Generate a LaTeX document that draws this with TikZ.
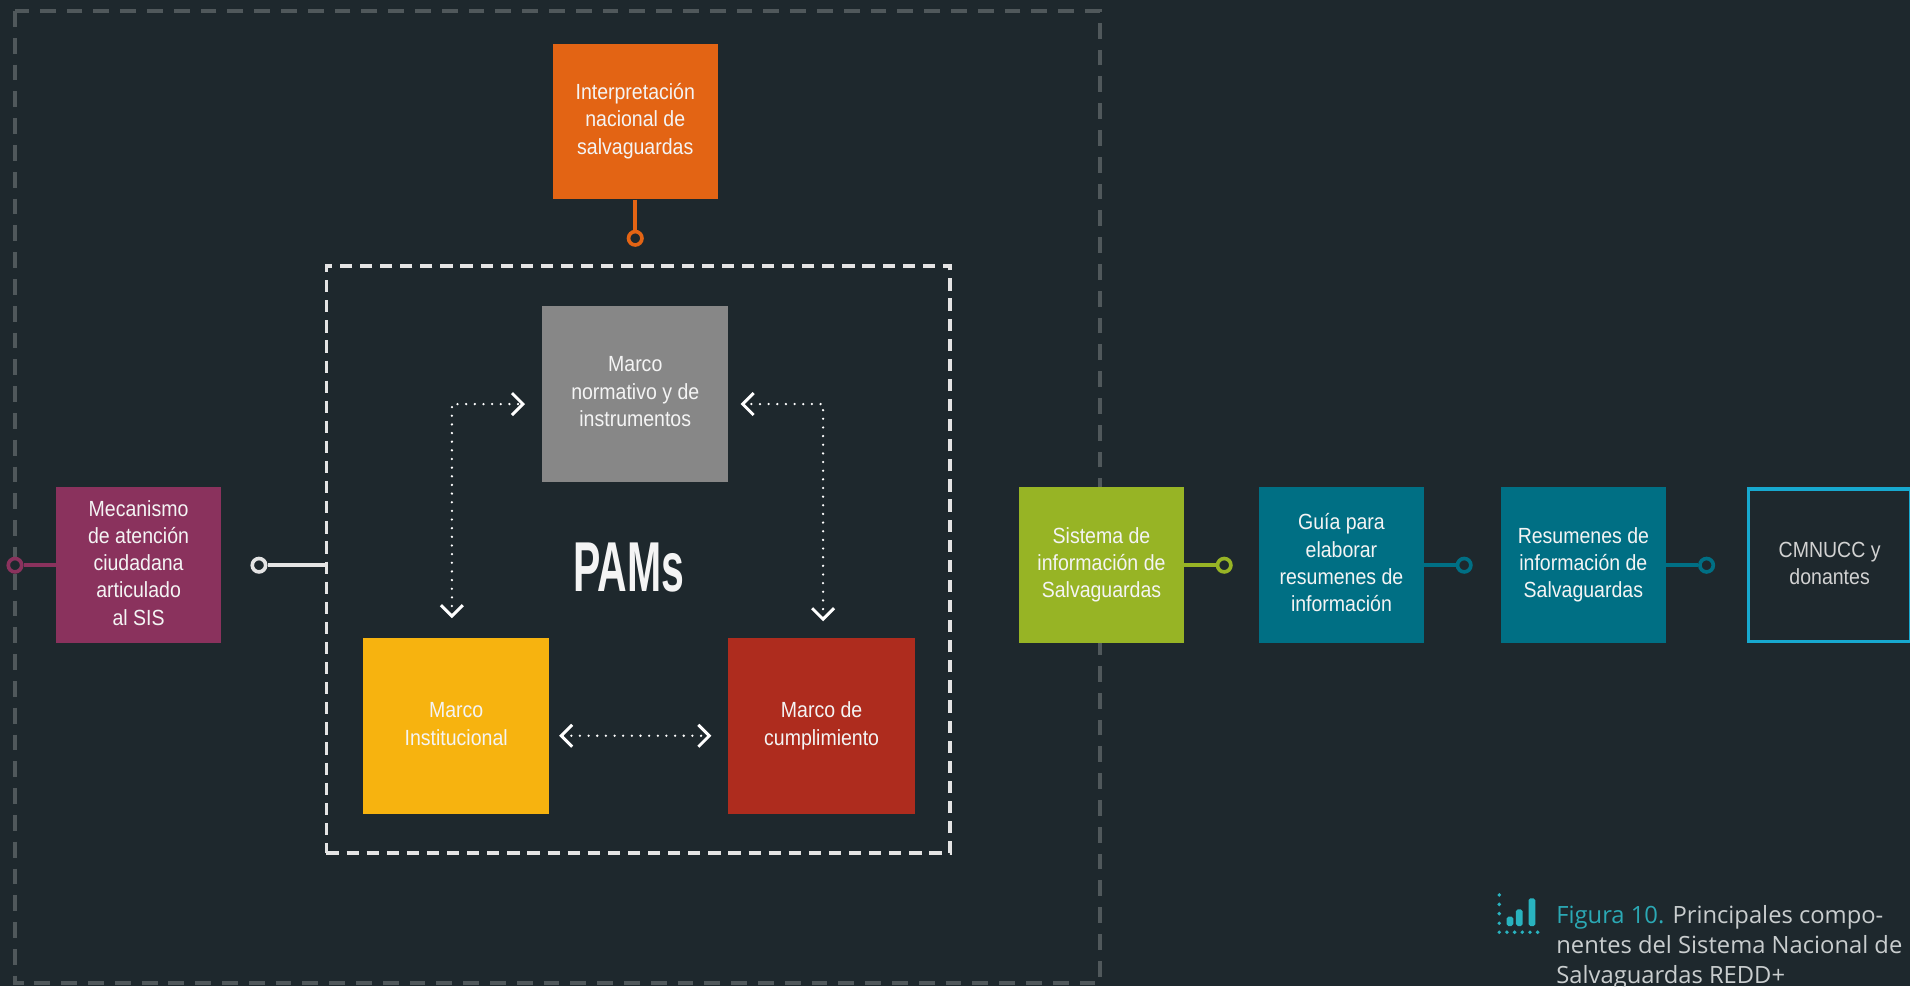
\documentclass[tikz,border=0pt]{standalone}
\usepackage{fontspec}
\usepackage{graphicx}
\setmainfont{Liberation Sans}
\newfontfamily\capfont{Open Sans}
\usetikzlibrary{arrows.meta}
\definecolor{bg}{HTML}{1E282D}
\definecolor{outerdash}{HTML}{50585B}
\definecolor{innerdash}{HTML}{E4E4E4}
\definecolor{orangeC}{HTML}{E36414}
\definecolor{grayC}{HTML}{878787}
\definecolor{yellowC}{HTML}{F7B30F}
\definecolor{redC}{HTML}{AE2C1E}
\definecolor{purpleC}{HTML}{8A325D}
\definecolor{greenC}{HTML}{97B425}
\definecolor{tealC}{HTML}{006F84}
\definecolor{cyanC}{HTML}{17A9CF}
\definecolor{txtC}{HTML}{F4F4F4}
\definecolor{txtGray}{HTML}{D2D2D2}
\definecolor{capTeal}{HTML}{2BA9B5}
\definecolor{capGray}{HTML}{C9CDCE}
\definecolor{iconC}{HTML}{29B3BF}
\newcommand{\bt}[1]{\scalebox{0.89}[1]{\begin{tabular}{@{}c@{}}#1\end{tabular}}}
\tikzset{
  box/.style={inner sep=0pt, minimum width=135.5pt, minimum height=128pt, text=txtC,
    font=\fontsize{18}{22.4}\selectfont},
  bigbox/.style={box, minimum width=153pt, minimum height=144pt},
  conn/.style={line width=3pt},
  port/.style={circle, draw, line width=3pt, fill=bg, minimum size=11pt, inner sep=0pt},
  dotline/.style={line width=2.1pt, dash pattern=on 0pt off 7.1pt, line cap=round, draw=white,
    {Straight Barb[length=9pt,width=18pt,line width=2.4pt]}-{Straight Barb[length=9pt,width=18pt,line width=2.4pt]}},
  outerframe/.style={draw=outerdash, line width=4pt, dash pattern=on 13pt off 9pt},
  innerframe/.style={draw=innerdash, line width=3.2pt, dash pattern=on 10pt off 6.5pt, inner sep=0pt},
  captxt/.style={anchor=base west, inner sep=0pt, font=\capfont\fontsize{19.5}{24.6}\selectfont, text=capGray},
}
\begin{document}
\begin{tikzpicture}[x=1pt,y=-1pt]
\fill[bg] (0,0) rectangle (1568,809.5);
\useasboundingbox (0,0) rectangle (1568,809.5);
\clip (0,0) rectangle (1568,809.5);

% outer dashed frame
\draw[outerframe] (12.3,9) rectangle (903,807);

% inner dashed frame
\node[innerframe, minimum width=512pt, minimum height=482pt] (pams) at (524,459) {};

% boxes
\node[box, fill=orangeC] (interp) at (521.5,99.75) {\bt{Interpretación\\nacional de\\salvaguardas}};
\node[bigbox, fill=grayC, minimum height=144.5pt] (normativo) at (521.5,323.25) {\bt{Marco\\normativo y de\\instrumentos}};
\node[bigbox, fill=yellowC] (inst) at (374.5,596) {\bt{Marco\\Institucional}};
\node[bigbox, fill=redC] (cumpl) at (674.5,596) {\bt{Marco de\\cumplimiento}};
\node[box, fill=purpleC] (mec) at (113.75,464) {\bt{Mecanismo\\de atención\\ciudadana\\articulado\\al SIS}};
\node[box, fill=greenC] (sis) at (904.25,464) {\bt{Sistema de\\información de\\Salvaguardas}};
\node[box, fill=tealC] (guia) at (1101.25,464) {\bt{Guía para\\elaborar\\resumenes de\\información}};
\node[box, fill=tealC] (resum) at (1299.85,464) {\bt{Resumenes de\\información de\\Salvaguardas}};
\node[box, draw=cyanC, line width=3pt, minimum width=133pt, minimum height=125pt, text=txtGray] (cmnucc) at (1502,464) {\bt{CMNUCC y\\donantes}};

% PAMs label
\node[inner sep=0pt, text=txtC, font=\bfseries\fontsize{58}{58}\selectfont] (pamslabel) at (516,466) {\scalebox{0.58}[1]{PAMs}};

% ports
\node[port, draw=orangeC] (pO) at (521.5,195.6) {};
\node[port, draw=purpleC] (pM) at (12.3,464) {};
\node[port, draw=innerdash] (pP) at (212.6,464) {};
\node[port, draw=greenC] (pS) at (1005,464) {};
\node[port, draw=tealC] (pG) at (1202,464) {};
\node[port, draw=tealC] (pR) at (1401,464) {};

% connectors
\draw[conn, orangeC] (interp.south) -- (pO.north);
\draw[conn, purpleC] (pM.east) -- (mec.west);
\draw[conn, innerdash] (pP.east) -- (pams.west |- pP.east);
\draw[conn, greenC] (sis.east) -- (pS.west);
\draw[conn, tealC] (guia.east) -- (pG.west);
\draw[conn, tealC] (resum.east) -- (pR.west);

% dotted double arrows
\coordinate (a1s) at (371,507.5);
\coordinate (a1e) at (431,331.7);
\coordinate (a2s) at (675.7,510);
\coordinate (a2e) at (608,331.7);
\coordinate (a3s) at (459,604);
\coordinate (a3e) at (584,604);
\draw[dotline] (a1s) |- (a1e);
\draw[dotline] (a2s) |- (a2e);
\draw[dotline] (a3s) -- (a3e);

% caption icon
\foreach \yy in {734.7,742.4,750.0,757.9,765.3} \fill[iconC] (1230.8,\yy) circle (1.6pt);
\foreach \xx in {1237.1,1243.4,1249.7,1256.0,1262.3} \fill[iconC] (\xx,765.3) circle (1.6pt);
\fill[iconC, rounded corners=1.5pt] (1236.8,760.2) rectangle (1242.3,752.5);
\fill[iconC, rounded corners=1.5pt] (1244.5,760.2) rectangle (1250.0,746.5);
\fill[iconC, rounded corners=1.5pt] (1254.9,760.2) rectangle (1260.4,737.4);

% caption
\node[captxt] (cap1) at (1277.5,758.0) {\textcolor{capTeal}{Figura 10.} Principales compo-};
\node[captxt] (cap2) at (1277.5,782.6) {nentes del Sistema Nacional de};
\node[captxt] (cap3) at (1277.5,807.5) {Salvaguardas REDD+};
\end{tikzpicture}
\end{document}
